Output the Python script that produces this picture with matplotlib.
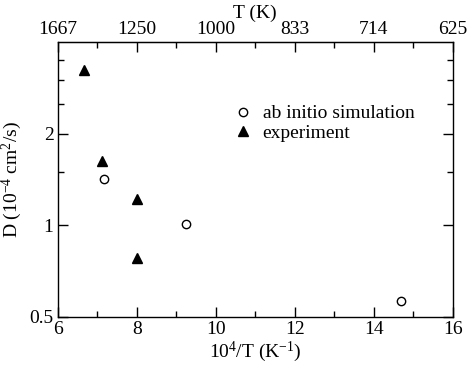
import matplotlib
matplotlib.use("Agg")
import matplotlib.pyplot as plt
from matplotlib.ticker import FixedLocator, NullFormatter

plt.rcParams['font.family'] = ['Liberation Serif', 'DejaVu Serif']
plt.rcParams['mathtext.fontset'] = 'custom'
plt.rcParams['mathtext.rm'] = 'Liberation Serif'
plt.rcParams['mathtext.it'] = 'Liberation Serif:italic'

# data
sim_x = [7.18, 9.25, 14.69]
sim_y = [1.416, 1.008, 0.564]
exp_x = [6.67, 7.13, 8.0, 8.0]
exp_y = [3.25, 1.63, 1.217, 0.779]

x_ticks = [6, 8, 10, 12, 14, 16]
top_labels = ['1667', '1250', '1000', '833', '714', '625']
y_ticks = [0.5, 1, 2]
y_ticklabels = ['0.5', '1', '2']
y_minor = [1.5, 2.5, 3, 3.5]

fig = plt.figure(figsize=(4.69, 3.69), dpi=100)
ax = fig.add_axes([0.123, 0.141, 0.842, 0.745])

ax.plot(sim_x, sim_y, linestyle='none', marker='o', ms=6, mfc='white',
        mec='black', mew=1.0, label='ab initio simulation')
ax.plot(exp_x, exp_y, linestyle='none', marker='^', ms=7.5, mfc='black',
        mec='black', label='experiment')

ax.set_yscale('log')
ax.set_xlim(6, 16)
ax.set_ylim(0.5, 4)
ax.set_xticks(x_ticks)
ax.set_xticklabels([str(t) for t in x_ticks])
ax.xaxis.set_minor_locator(FixedLocator([7, 9, 11, 13, 15]))
ax.yaxis.set_major_locator(FixedLocator(y_ticks))
ax.set_yticklabels(y_ticklabels)
ax.yaxis.set_minor_locator(FixedLocator(y_minor))
ax.yaxis.set_minor_formatter(NullFormatter())

ax.tick_params(which='both', direction='in', top=False, right=True,
               labelsize=14, width=1)
ax.tick_params(which='major', length=7, pad=3)
ax.tick_params(which='minor', length=4)

ax.set_xlabel(r'10$^4$/T (K$^{-1}$)', fontsize=14, labelpad=1)
ax.set_ylabel(r'D (10$^{-4}$ cm$^2$/s)', fontsize=14, labelpad=4)

sec = ax.secondary_xaxis('top')
sec.set_xticks(x_ticks)
sec.set_xticklabels(top_labels)
sec.xaxis.set_minor_locator(FixedLocator([7, 9, 11, 13, 15]))
sec.tick_params(which='both', direction='in', labelsize=14, width=1)
sec.tick_params(which='major', length=7, pad=3)
sec.tick_params(which='minor', length=4)
sec.set_xlabel('T (K)', fontsize=14, labelpad=2)

for s in ax.spines.values():
    s.set_linewidth(1)

ax.legend(loc='upper left', bbox_to_anchor=(0.445, 0.772), frameon=False,
          fontsize=14, handlelength=1.0, handletextpad=0.5,
          labelspacing=0.1, borderpad=0, borderaxespad=0)

fig.savefig('out.png', dpi=100)
